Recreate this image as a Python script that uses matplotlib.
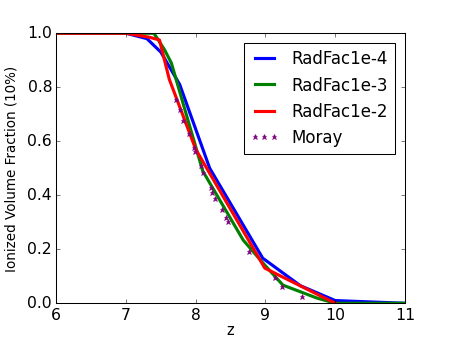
import matplotlib
matplotlib.use('Agg')
import matplotlib.pyplot as plt

plt.style.use('classic')

# curves
z_fac4 = [6.0, 7.0, 7.3, 7.5, 7.77, 8.2, 8.96, 9.5, 10.0, 11.0]
f_fac4 = [1.0, 1.0, 0.98, 0.93, 0.81, 0.50, 0.167, 0.065, 0.01, 0.0]

z_fac3 = [6.0, 7.0, 7.4, 7.55, 7.65, 8.1, 8.68, 8.96, 9.25, 9.74, 10.0, 11.0]
f_fac3 = [1.0, 1.0, 1.0, 0.94, 0.89, 0.49, 0.234, 0.15, 0.067, 0.019, 0.0, 0.0]

z_fac2 = [6.0, 7.0, 7.34, 7.48, 7.62, 8.0, 8.99, 10.0]
f_fac2 = [1.0, 1.0, 0.985, 0.975, 0.83, 0.57, 0.13, 0.0]

z_moray = [7.72, 7.77, 7.82, 7.90, 7.97, 7.99, 8.08, 8.11, 8.22, 8.24, 8.28,
           8.37, 8.43, 8.46, 8.77, 9.13, 9.23, 9.53]
f_moray = [0.752, 0.717, 0.674, 0.628, 0.576, 0.562, 0.509, 0.484, 0.426, 0.41,
           0.387, 0.346, 0.315, 0.302, 0.191, 0.093, 0.061, 0.024]

fig = plt.figure(figsize=(6, 4.5), dpi=75)
fig.patch.set_facecolor('white')
ax = fig.add_axes([0.125, 0.1, 0.775, 0.8])

ax.plot(z_fac4, f_fac4, color='b', lw=3, label='RadFac1e-4')
ax.plot(z_fac3, f_fac3, color='g', lw=3, label='RadFac1e-3')
ax.plot(z_fac2, f_fac2, color='r', lw=3, label='RadFac1e-2')
ax.plot(z_moray, f_moray, ls='none', marker='*', ms=5, color='purple',
        mec='purple', label='Moray')

ax.set_xlim(6, 11)
ax.set_ylim(0, 1)
ax.set_xticks([6, 7, 8, 9, 10, 11])
ax.set_yticks([0.0, 0.2, 0.4, 0.6, 0.8, 1.0])
ax.tick_params(labelsize=15, pad=4)
ax.set_xlabel('z', fontsize=14, labelpad=0)
ax.set_ylabel('Ionized Volume Fraction (10%)', fontsize=13, labelpad=8)
ax.legend(loc='upper right', numpoints=3, fontsize=16, handlelength=1.7,
          borderaxespad=0.6)

fig.savefig('out.png', dpi=75, facecolor='white')
